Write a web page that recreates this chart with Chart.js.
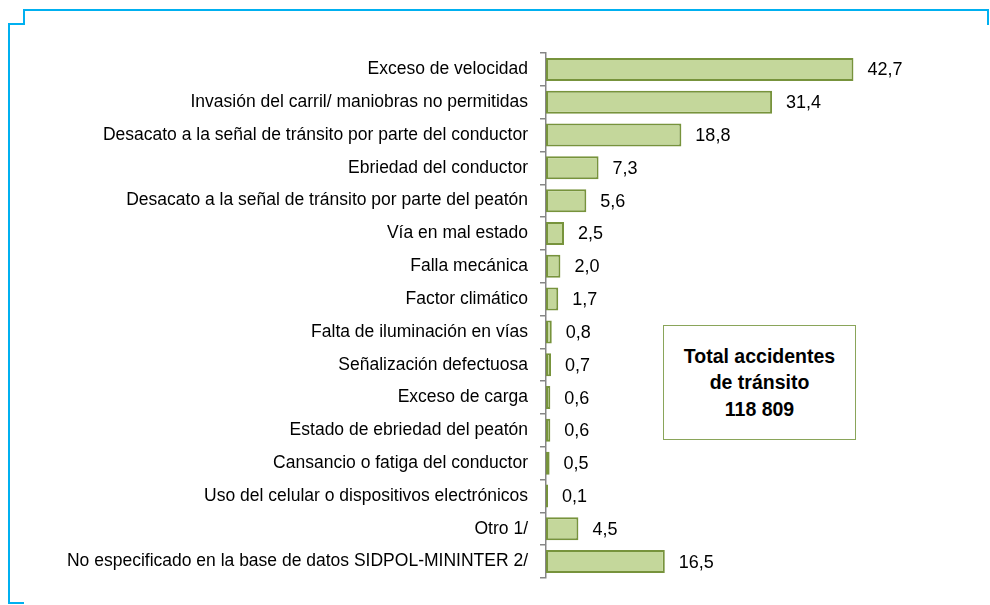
<!DOCTYPE html>
<html>
<head>
<meta charset="utf-8">
<script src="https://cdn.jsdelivr.net/npm/chart.js@4.4.1/dist/chart.umd.min.js"></script>
<style>
  html, body { margin: 0; padding: 0; background: #fff; }
  #wrap { position: relative; width: 990px; height: 605px; }
  #box {
    position: absolute; left: 663px; top: 325px; width: 193px; height: 115px;
    border: 1px solid #8aa55a; box-sizing: border-box; background: #fff;
    font-family: "Liberation Sans", Arial, sans-serif; font-weight: bold; font-size: 19.5px;
    line-height: 26.5px; text-align: center; color: #000;
    display: flex; align-items: center; justify-content: center;
  }
</style>
</head>
<body>
<div id="wrap">
  <canvas id="c" width="990" height="605"></canvas>
  <div id="box"><div>Total accidentes<br>de tránsito<br>118 809</div></div>
</div>
<script>
const categories = [
  "Exceso de velocidad",
  "Invasión del carril/ maniobras no permitidas",
  "Desacato a la señal de tránsito por parte del conductor",
  "Ebriedad del conductor",
  "Desacato a la señal de tránsito por parte del peatón",
  "Vía en mal estado",
  "Falla mecánica",
  "Factor climático",
  "Falta de iluminación en vías",
  "Señalización defectuosa",
  "Exceso de carga",
  "Estado de ebriedad del peatón",
  "Cansancio o fatiga del conductor",
  "Uso del celular o dispositivos electrónicos",
  "Otro 1/",
  "No especificado en la base de datos SIDPOL-MININTER 2/"
];
const values = [42.7, 31.4, 18.8, 7.3, 5.6, 2.5, 2.0, 1.7, 0.8, 0.7, 0.6, 0.6, 0.5, 0.1, 4.5, 16.5];
const xMax = 50;

const FONT = '"Liberation Sans", Arial, sans-serif';

const framePlugin = {
  id: 'frame',
  beforeDraw(chart) {
    const ctx = chart.ctx;
    ctx.save();
    ctx.strokeStyle = '#00b0f0';
    ctx.lineWidth = 2;
    ctx.beginPath();
    ctx.moveTo(24, 603); ctx.lineTo(9, 603); ctx.lineTo(9, 24); ctx.lineTo(24, 24);
    ctx.lineTo(24, 10); ctx.lineTo(988, 10); ctx.lineTo(988, 25);
    ctx.stroke();
    ctx.restore();
  }
};

const valueLabels = {
  id: 'valueLabels',
  afterDatasetsDraw(chart) {
    const ctx = chart.ctx;
    const meta = chart.getDatasetMeta(0);
    ctx.save();
    ctx.font = '18px ' + FONT;
    ctx.fillStyle = '#000';
    ctx.textBaseline = 'middle';
    ctx.textAlign = 'left';
    meta.data.forEach((bar, i) => {
      const txt = values[i].toFixed(1).replace('.', ',');
      ctx.fillText(txt, bar.x + 14, bar.y + 1);
    });
    ctx.restore();
  }
};

new Chart(document.getElementById('c'), {
  type: 'bar',
  data: {
    labels: categories,
    datasets: [{
      data: values,
      backgroundColor: '#c4d79b',
      borderColor: '#77933c',
      borderWidth: 2,
      borderSkipped: false,
      minBarLength: 2,
      categoryPercentage: 1,
      barPercentage: 0.7
    }]
  },
  options: {
    indexAxis: 'y',
    responsive: false,
    animation: false,
    layout: { padding: { top: 53, bottom: 27, left: 0, right: 84 } },
    plugins: { legend: { display: false }, tooltip: { enabled: false } },
    scales: {
      x: { display: false, min: 0, max: xMax },
      y: {
        afterFit(scale) { scale.width = 546; },
        border: { display: true, color: '#868686', width: 1.5 },
        grid: { display: true, offset: true, drawOnChartArea: false, tickLength: 6, color: '#868686', lineWidth: 1.5 },
        ticks: { color: '#000', font: { family: FONT, size: 17.5 }, padding: 12, autoSkip: false }
      }
    }
  },
  plugins: [framePlugin, valueLabels]
});
</script>
</body>
</html>
